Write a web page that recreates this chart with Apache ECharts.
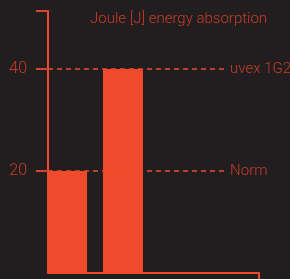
<!DOCTYPE html>
<html>
<head>
<meta charset="utf-8">
<script src="https://cdn.jsdelivr.net/npm/echarts@6/dist/echarts.min.js"></script>
<style>
  html, body { margin: 0; padding: 0; background: #221e1f; }
  #main { width: 290px; height: 279px; }
</style>
</head>
<body>
<div id="main"></div>
<script>
// data
var barPos = [0, 1];          // bar slots
var barValues = [20, 40];     // joule values
var refNames = ['Norm', 'uvex 1G2'];
var refValues = [20, 40];
var yLabels = [20, 40];

var red = '#ef4a2b';
var textRed = '#c73c26';
var yMax = 51.4;
var xMin = -0.34, xMax = 3.43;

var chart = echarts.init(document.getElementById('main'));

var lines = refValues.map(function (v, i) {
    return [
        { coord: [xMin, v], name: refNames[i] },
        { coord: [2.86, v] }
    ];
});

chart.setOption({
    backgroundColor: '#221e1f',
    animation: false,
    title: {
        text: 'Joule [J] energy absorption',
        left: 85,
        top: 7,
        textStyle: { color: textRed, fontSize: 15, fontWeight: 300, fontFamily: 'Roboto' }
    },
    grid: { left: 48, right: 31, top: 11, bottom: 6 },
    xAxis: {
        type: 'value',
        min: xMin,
        max: xMax,
        splitLine: { show: false },
        axisLine: { onZero: false, lineStyle: { color: red, width: 2 } },
        axisTick: { show: true, customValues: [xMax], length: 8, lineStyle: { color: red, width: 2 } },
        axisLabel: { show: false }
    },
    yAxis: {
        type: 'value',
        min: 0,
        max: yMax,
        splitLine: { show: false },
        axisLine: { show: true, onZero: false, lineStyle: { color: red, width: 2 } },
        axisTick: { show: true, customValues: [20, 40, yMax], length: 12, lineStyle: { color: '#d8442a', width: 2 } },
        axisLabel: {
            customValues: yLabels,
            margin: 21,
            color: textRed,
            fontSize: 16,
            fontWeight: 300,
            fontFamily: 'Roboto'
        }
    },
    series: [{
        type: 'bar',
        barWidth: 40,
        itemStyle: { color: red },
        data: barPos.map(function (x, i) { return [x, barValues[i]]; }),
        markLine: {
            silent: true,
            symbol: 'none',
            lineStyle: { color: red, type: [5, 4], width: 1.5 },
            label: {
                position: 'end',
                distance: 3,
                formatter: function (p) { return p.name; },
                color: textRed,
                fontSize: 15,
                fontWeight: 300,
                fontFamily: 'Roboto'
            },
            data: lines
        }
    }]
});
</script>
</body>
</html>
